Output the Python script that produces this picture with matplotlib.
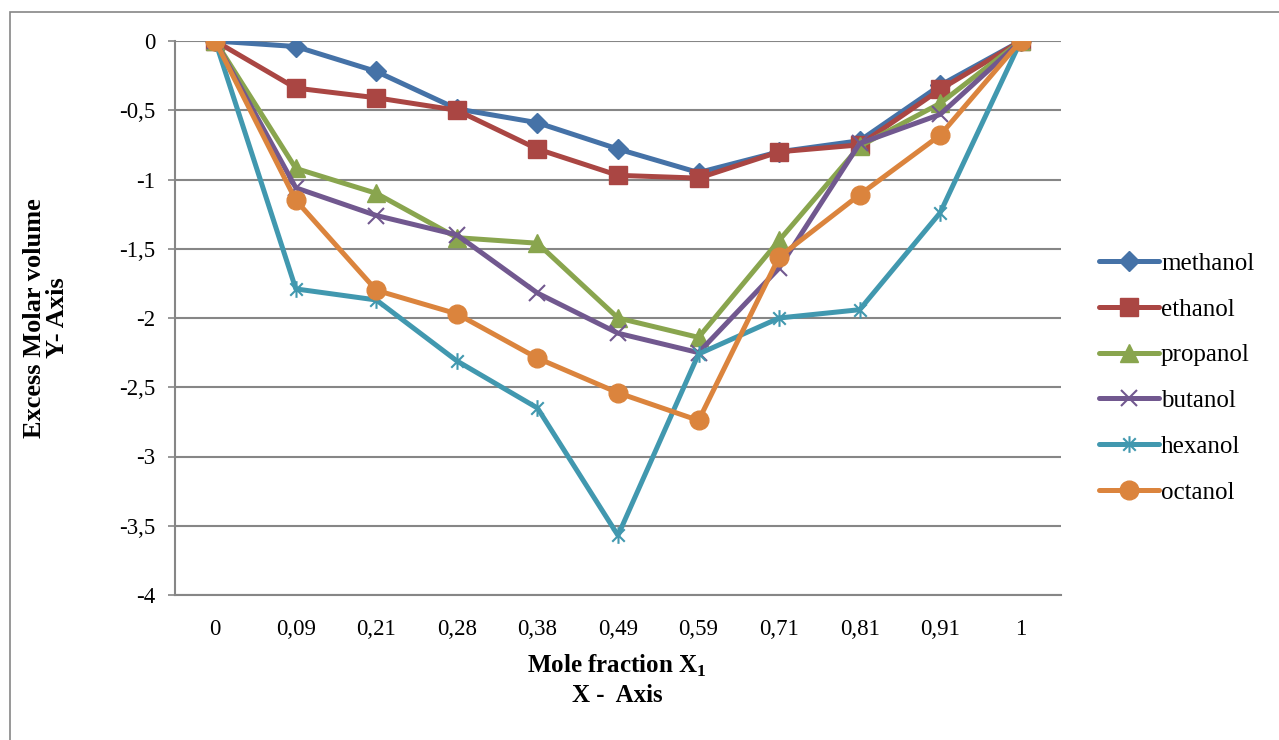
import matplotlib
matplotlib.use("Agg")
import matplotlib.pyplot as plt
from matplotlib.patches import Rectangle
from matplotlib.path import Path

categories = ["0", "0,09", "0,21", "0,28", "0,38", "0,49", "0,59", "0,71", "0,81", "0,91", "1"]

methanol = [0, -0.04, -0.22, -0.49, -0.59, -0.78, -0.95, -0.80, -0.72, -0.32, 0]
ethanol  = [0, -0.34, -0.41, -0.50, -0.78, -0.97, -0.99, -0.80, -0.75, -0.35, 0]
propanol = [0, -0.92, -1.10, -1.42, -1.46, -2.00, -2.14, -1.44, -0.76, -0.45, 0]
butanol  = [0, -1.06, -1.26, -1.40, -1.82, -2.11, -2.25, -1.64, -0.74, -0.53, 0]
hexanol  = [0, -1.79, -1.87, -2.31, -2.65, -3.57, -2.26, -2.00, -1.94, -1.24, 0]
octanol  = [0, -1.15, -1.80, -1.97, -2.29, -2.54, -2.74, -1.56, -1.11, -0.68, 0]

series_names = ["methanol", "ethanol", "propanol", "butanol", "hexanol", "octanol"]
series_values = [methanol, ethanol, propanol, butanol, hexanol, octanol]
colors = ["#4572A7", "#AA4643", "#89A54E", "#71588F", "#4198AF", "#DB843D"]

y_ticks = [0, -0.5, -1, -1.5, -2, -2.5, -3, -3.5, -4]
y_tick_labels = ["0", "-0,5", "-1", "-1,5", "-2", "-2,5", "-3", "-3,5", "-4"]

plt.rcParams['mathtext.fontset'] = 'custom'
plt.rcParams['mathtext.rm'] = 'Liberation Serif'
plt.rcParams['mathtext.bf'] = 'Liberation Serif:bold'

serif = "Liberation Serif"

# Excel-like asterisk (x + vertical bar)
star_path = Path(
    [(0, -1), (0, 1), (-0.75, -0.75), (0.75, 0.75), (-0.75, 0.75), (0.75, -0.75)],
    [Path.MOVETO, Path.LINETO, Path.MOVETO, Path.LINETO, Path.MOVETO, Path.LINETO],
)
markers = ["D", "s", "^", "x", star_path, "o"]
msizes = [10, 13, 13, 11, 12, 13.5]
mew = [1, 1, 1, 1.5, 1.5, 1]

fig = plt.figure(figsize=(12.79, 7.40), dpi=100)
ax = fig.add_axes([175/1279, 145/740, 886/1279, 554/740])

x = list(range(len(categories)))
handles = []
for name, vals, c, m, ms, ew in zip(series_names, series_values, colors, markers, msizes, mew):
    h, = ax.plot(x, vals, color=c, lw=3.6, marker=m, markersize=ms,
                 markerfacecolor=c, markeredgecolor=c, markeredgewidth=ew,
                 label=name, solid_capstyle='round', solid_joinstyle='round')
    handles.append(h)

ax.set_xlim(-0.5, len(categories) - 0.5)
ax.set_ylim(-4, 0)
ax.set_yticks(y_ticks)
ax.set_yticklabels(y_tick_labels, fontfamily=serif, fontsize=16.5)
ax.set_xticks(x)
ax.set_xticklabels(categories, fontfamily=serif, fontsize=16.5)
ax.tick_params(axis='x', length=0, pad=17)
ax.tick_params(axis='y', length=5, width=1.2, color="#868686", pad=9, direction='out')
ax.yaxis.grid(True, color="#868686", lw=1.5)
ax.set_axisbelow(True)
for s in ["top", "right"]:
    ax.spines[s].set_visible(False)
for s in ["left", "bottom"]:
    ax.spines[s].set_color("#868686")
    ax.spines[s].set_linewidth(1.5)

fig.text(617/1279, 1 - 666/740, r"Mole fraction X$_{\mathbf{1}}$", ha='center', va='center',
         fontfamily=serif, fontweight='bold', fontsize=18)
fig.text(617/1279, 1 - 696/740, "X -  Axis", ha='center', va='center',
         fontfamily=serif, fontweight='bold', fontsize=18)
fig.text(46/1279, 1 - 318/740, "Excess Molar volume\nY- Axis", ha='center', va='center',
         rotation=90, fontfamily=serif, fontweight='bold', fontsize=19, linespacing=1.05)

leg = fig.legend(handles=handles, loc='center left', bbox_to_anchor=(1086/1279, 1 - 378/740),
                 frameon=False, prop={'family': serif, 'size': 18}, handlelength=2.4,
                 handletextpad=0.1, labelspacing=0.93, borderpad=0)

fig.add_artist(Rectangle((10/1279, -0.05), 1.2, 1 - 12/740 + 0.05, transform=fig.transFigure,
                         fill=False, edgecolor="#868686", lw=1.2))

fig.savefig("out.png", dpi=100)
